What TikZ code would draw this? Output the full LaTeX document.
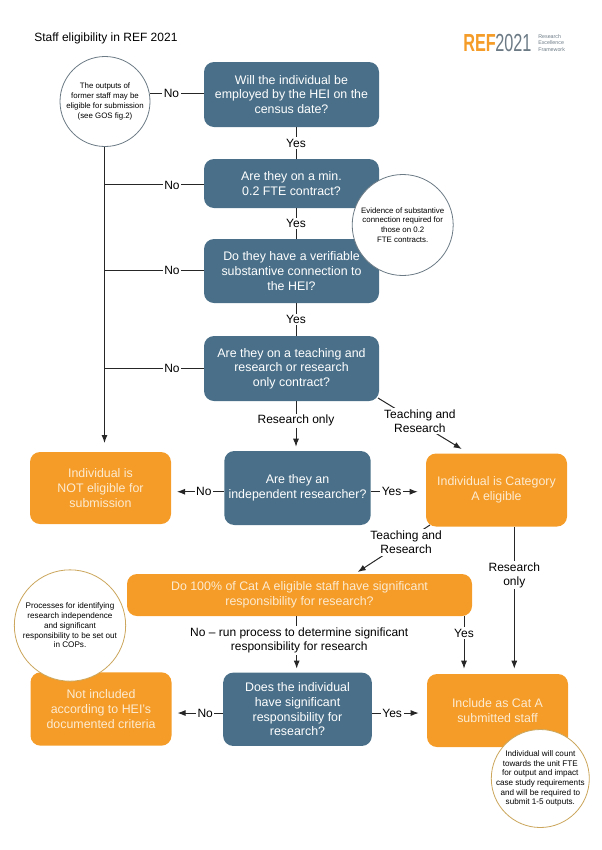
\documentclass[tikz,border=0pt]{standalone}
\usepackage{fontspec}
\setmainfont{Liberation Sans}
\usetikzlibrary{arrows.meta}
\definecolor{refblue}{HTML}{4A7089}
\definecolor{reforange}{HTML}{F49C27}
\definecolor{refgold}{HTML}{CBA65C}
\definecolor{refgrey}{HTML}{6B7A85}
\definecolor{paleorange}{HTML}{FDEBD2}
\tikzset{
	qbox/.style={draw=none, fill=refblue, rounded corners=7.5pt, text=white, align=center, inner sep=0pt, font=\fontsize{9.3}{11}\selectfont},
	obox/.style={draw=none, fill=reforange, rounded corners=7.5pt, text=paleorange, align=center, inner sep=0pt, font=\fontsize{9.3}{11}\selectfont},
	note/.style={circle, draw=refgrey, line width=0.6pt, fill=white, align=center, inner sep=-6pt, font=\fontsize{5.9}{7.3}\selectfont},
	goldnote/.style={note, draw=refgold, font=\fontsize{6.1}{7.3}\selectfont},
	link/.style={draw=black!85, line width=0.75pt},
	arrowlink/.style={link, -{Latex[length=6pt,width=4.5pt]}},
	lbl/.style={fill=white, inner sep=1.2pt, align=center, text=black, font=\fontsize{9}{10.6}\selectfont}
}

\begin{document}
\begin{tikzpicture}[x=0.75pt, y=-0.75pt]
	\useasboundingbox (0, 0) rectangle (601, 850);
	%%%%% HEADER %%%%%
	\node[anchor=west, inner sep=0pt, font=\fontsize{9}{11}\selectfont] (title) at (34, 38.5) {Staff eligibility in REF 2021};
	\node[anchor=west, inner sep=0pt, font=\bfseries\fontsize{18.5}{18.5}\selectfont, text=reforange] (logoref) at (463, 43) {\scalebox{0.66}[1]{REF}};
	\node[anchor=west, inner sep=0pt, font=\fontsize{18.5}{18.5}\selectfont, text=refgrey] (logoyear) at (495, 43) {\scalebox{0.66}[1]{2021}};
	\node[anchor=west, inner sep=0pt, align=left, font=\fontsize{4}{5.1}\selectfont, text=refgrey] (logotext) at (538, 43) {Research\\Excellence\\Framework};

	%%%%% BOXES %%%%%
	\node[qbox, minimum width=131.25pt, minimum height=48.75pt] (employed) at (291.5, 94.5) {Will the individual be\\employed by the HEI on the\\census date?};
	\node[qbox, minimum width=131.25pt, minimum height=36.75pt] (contract) at (291.5, 183.5) {Are they on a min.\\0.2 FTE contract?};
	\node[qbox, minimum width=131.25pt, minimum height=48pt] (connection) at (291.5, 271) {Do they have a verifiable\\substantive connection to\\the HEI?};
	\node[qbox, minimum width=131.25pt, minimum height=48.75pt] (teaching) at (291.5, 368.5) {Are they on a teaching and\\research or research\\only contract?};
	\node[obox, minimum width=105.75pt, minimum height=54pt] (noteligible) at (100.5, 488) {Individual is\\NOT eligible for\\submission};
	\node[qbox, minimum width=109.8pt, minimum height=55.5pt] (independent) at (297.5, 488) {Are they an\\independent researcher?};
	\node[obox, minimum width=105.75pt, minimum height=54.75pt] (cata) at (496.5, 490) {Individual is Category\\A eligible};
	\node[obox, minimum width=258.75pt, minimum height=31.5pt] (allstaff) at (299.5, 595) {Do 100\% of Cat A eligible staff have significant\\responsibility for research?};
	\node[obox, minimum width=105.75pt, minimum height=55pt] (notincluded) at (101, 709) {Not included\\according to HEI's\\documented criteria};
	\node[qbox, minimum width=111.5pt, minimum height=55pt] (significant) at (297.5, 709.3) {Does the individual\\have significant\\responsibility for\\research?};
	\node[obox, minimum width=105.75pt, minimum height=54.75pt] (include) at (497.5, 710.5) {Include as Cat A\\submitted staff};

	%%%%% CONNECTORS %%%%%
	\coordinate (formerend) at (104.5, 443);
	\coordinate (formertop) at (104.5, 57);
	\coordinate (teachingout) at (378, 398);
	\coordinate (cataentry) at (461.7, 449);
	\coordinate (cataout) at (430, 525);
	\coordinate (allentry) at (357.7, 572);

	\draw[arrowlink] (formertop) -- (formerend);
	\draw[link] (employed.west |- 0, 93) -- node[lbl, pos=0.6] {No} (150, 93);
	\draw[link] ([yshift=-1.1pt]contract.west) -- node[lbl, pos=0.32] {No} ([yshift=-1.1pt]contract.west -| formerend);
	\draw[link] ([yshift=0.7pt]connection.west) -- node[lbl, pos=0.32] {No} ([yshift=0.7pt]connection.west -| formerend);
	\draw[link] (teaching.west) -- node[lbl, pos=0.32] {No} (teaching.west -| formerend);

	\draw[link] (employed.south -| 296, 0) -- node[lbl] {Yes} (contract.north -| 296, 0);
	\draw[link] (contract.south -| 296, 0) -- node[lbl] {Yes} (connection.north -| 296, 0);
	\draw[link] (connection.south -| 296, 0) -- node[lbl] {Yes} (teaching.north -| 296, 0);

	\draw[arrowlink] (teaching.south -| 296, 0) -- node[lbl, pos=0.43] {Research only} ([yshift=3pt]independent.north -| 296, 0);
	\draw[arrowlink] (teachingout) -- node[lbl, pos=0.5, yshift=1.9pt] {Teaching and\\Research} (cataentry);
	\draw[arrowlink] ([yshift=-2.8pt]independent.west) -- node[lbl, pos=0.43] {No} ([xshift=4.3pt, yshift=-2.8pt]noteligible.east |- independent.west);
	\draw[arrowlink] ([yshift=-2.8pt]independent.east) -- node[lbl, pos=0.44] {Yes} ([xshift=-6pt, yshift=-2.8pt]cata.west |- independent.east);

	\draw[arrowlink] (cataout) -- node[lbl, pos=0.33, yshift=-1.5pt] {Teaching and\\Research} (allentry);
	\draw[arrowlink] (cata.south -| 514.3, 0) -- node[lbl, pos=0.34] {Research\\only} ([yshift=3.75pt]include.north -| 514.3, 0);
	\draw[arrowlink] (allstaff.south -| 464, 0) -- node[lbl, pos=0.32] {Yes} ([yshift=3.75pt]include.north -| 464, 0);
	\draw[arrowlink] (allstaff.south -| 296.7, 0) -- node[lbl, pos=0.466, xshift=1.9pt] {No -- run process to determine significant\\responsibility for research} ([yshift=2.8pt]significant.north -| 296.7, 0);

	\draw[arrowlink] ([yshift=-2.8pt]significant.west) -- node[lbl, pos=0.39] {No} ([xshift=4.3pt, yshift=-2.8pt]notincluded.east |- significant.west);
	\draw[arrowlink] ([yshift=-2.8pt]significant.east) -- node[lbl, pos=0.43] {Yes} ([xshift=-6pt, yshift=-2.8pt]include.west |- significant.east);

	%%%%% NOTES %%%%%
	\node[note, minimum size=67.5pt] (former) at (105, 101.5) {The outputs of\\former staff may be\\eligible for submission\\(see GOS fig.2)};
	\node[note, minimum size=75.75pt] (evidence) at (402.7, 225) {Evidence of substantive\\connection required for\\those on 0.2\\FTE contracts.};
	\node[goldnote, minimum size=83.5pt] (processes) at (70, 625.5) {Processes for identifying\\research independence\\and significant\\responsibility to be set out\\in COPs.};
	\node[goldnote, minimum size=73.5pt] (individual) at (540.3, 778.5) {Individual will count\\towards the unit FTE\\for output and impact\\case study requirements\\and will be required to\\submit 1-5 outputs.};
\end{tikzpicture}
\end{document}
